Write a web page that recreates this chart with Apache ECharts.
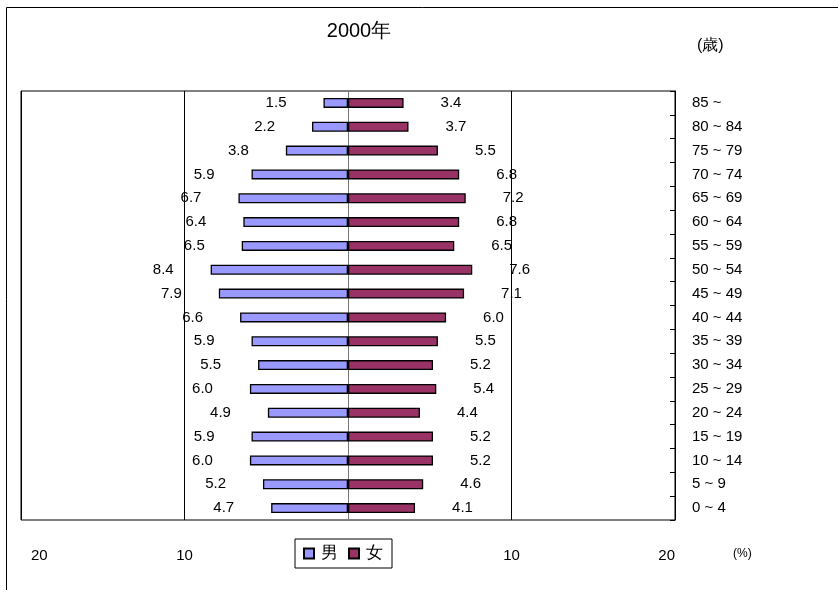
<!DOCTYPE html>
<html>
<head>
<meta charset="utf-8">
<script src="https://cdn.jsdelivr.net/npm/echarts@6/dist/echarts.min.js"></script>
<style>
  html, body { margin: 0; padding: 0; background: #fff; }
  #pyramid { width: 838px; height: 590px; }
</style>
</head>
<body>
<div id="pyramid"></div>
<script>
// 年齢階級（下から上へ）
const ageGroups = ['0 ~ 4', '5 ~ 9', '10 ~ 14', '15 ~ 19', '20 ~ 24', '25 ~ 29', '30 ~ 34',
  '35 ~ 39', '40 ~ 44', '45 ~ 49', '50 ~ 54', '55 ~ 59', '60 ~ 64', '65 ~ 69',
  '70 ~ 74', '75 ~ 79', '80 ~ 84', '85 ~']
// 構成比 (%)
const maleValues = [4.7, 5.2, 6.0, 5.9, 4.9, 6.0, 5.5, 5.9, 6.6, 7.9, 8.4, 6.5, 6.4, 6.7, 5.9, 3.8, 2.2, 1.5]
const femaleValues = [4.1, 4.6, 5.2, 5.2, 4.4, 5.4, 5.2, 5.5, 6.0, 7.1, 7.6, 6.5, 6.8, 7.2, 6.8, 5.5, 3.7, 3.4]
// 0 は凡例と重なるので出さない
const xTickLabels = [-20, -10, 10, 20]

const chart = echarts.init(document.getElementById('pyramid'))
const font = 'Liberation Sans, Arial, sans-serif'

chart.setOption({
  animation: false,
  textStyle: { fontFamily: font },
  title: {
    text: '2000年',
    left: 354,
    top: 16,
    textAlign: 'center',
    textStyle: { fontSize: 20, fontWeight: 'normal', color: '#000', fontFamily: font }
  },
  legend: {
    data: ['男', '女'],
    left: 295,
    top: 539,
    orient: 'horizontal',
    itemWidth: 10,
    itemHeight: 10,
    itemGap: 10,
    padding: [6, 9, 6, 8],
    borderColor: '#000',
    borderWidth: 1,
    icon: 'rect',
    textStyle: { fontSize: 17, color: '#000', padding: [0, 0, 0, 2] }
  },
  graphic: [
    {
      // 外枠
      type: 'rect',
      shape: { x: 6.5, y: 7.5, width: 900, height: 700 },
      style: { fill: 'none', stroke: '#000', lineWidth: 1 },
      silent: true,
      z: -1
    },
    {
      type: 'text',
      left: 697,
      top: 38,
      style: { text: '(歳)', fontSize: 16, fill: '#000', fontFamily: font }
    },
    {
      type: 'text',
      left: 733,
      top: 548,
      style: { text: '(%)', fontSize: 12, fill: '#000', fontFamily: font }
    }
  ],
  grid: {
    left: 21,
    right: 163,
    top: 91,
    bottom: 70,
    show: true,
    borderColor: '#000',
    borderWidth: 1
  },
  xAxis: {
    type: 'value',
    min: -20,
    max: 20,
    interval: 10,
    axisLine: { show: false },
    axisTick: { show: false },
    axisLabel: {
      margin: 28,
      fontSize: 15,
      color: '#000',
      alignMinLabel: 'left',
      alignMaxLabel: 'right',
      formatter: (v) => {
        if (!xTickLabels.includes(v)) return ''
        return v === -20 ? '{pad|20}' : String(Math.abs(v))
      },
      rich: {
        pad: { fontSize: 15, color: '#000', padding: [0, 0, 0, 10], fontFamily: font }
      }
    },
    splitLine: {
      show: true,
      lineStyle: { color: ['#000', '#000', '#777', '#000', '#000'], width: 1 }
    }
  },
  yAxis: [
    {
      type: 'category',
      data: ageGroups,
      position: 'left',
      axisLine: { onZero: true, lineStyle: { color: '#777' } },
      axisTick: { show: false },
      axisLabel: { show: false }
    },
    {
      type: 'category',
      data: ageGroups,
      position: 'right',
      axisLine: { show: true, lineStyle: { color: '#000' } },
      axisTick: { show: true, inside: true, length: 5, lineStyle: { color: '#000' } },
      axisLabel: { margin: 17, fontSize: 15, color: '#000', align: 'left' }
    }
  ],
  series: [
    {
      name: '男',
      type: 'bar',
      yAxisIndex: 0,
      barWidth: 10,
      barGap: '-100%',
      itemStyle: { color: '#9999FF', borderColor: '#000', borderWidth: 1.3 },
      label: {
        show: true,
        position: 'left',
        distance: 37,
        fontSize: 15,
        color: '#000',
        formatter: (p) => Math.abs(p.value).toFixed(1)
      },
      data: maleValues.map((v) => -v)
    },
    {
      name: '女',
      type: 'bar',
      yAxisIndex: 0,
      barWidth: 10,
      barGap: '-100%',
      itemStyle: { color: '#993366', borderColor: '#000', borderWidth: 1.3 },
      label: {
        show: true,
        position: 'right',
        distance: 37,
        fontSize: 15,
        color: '#000',
        formatter: (p) => p.value.toFixed(1)
      },
      data: femaleValues
    }
  ]
})
</script>
</body>
</html>
